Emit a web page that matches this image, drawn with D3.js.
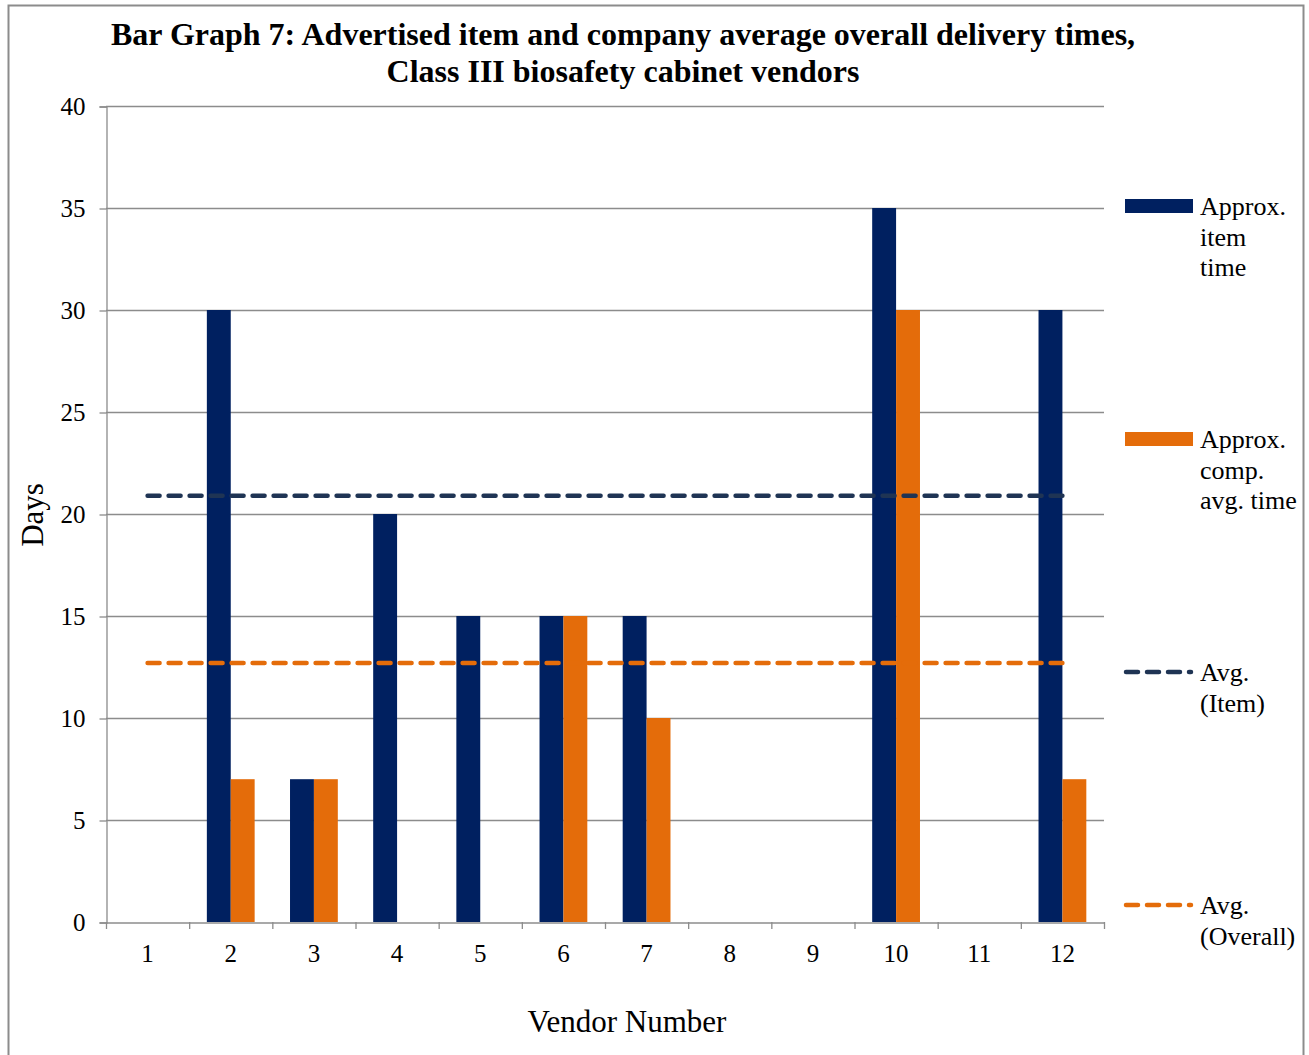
<!DOCTYPE html>
<html>
<head>
<meta charset="utf-8">
<script src="https://cdn.jsdelivr.net/npm/d3@7"></script>
<style>
  body { margin: 0; background: #fff; }
  text { font-family: "Liberation Serif", "Times New Roman", serif; }
</style>
</head>
<body>
<script>
// chart data
var vendors = ["1", "2", "3", "4", "5", "6", "7", "8", "9", "10", "11", "12"];
var itemTime = [0, 30, 7, 20, 15, 15, 15, 0, 0, 35, 0, 30];
var compTime = [0, 7, 7, 0, 0, 15, 10, 0, 0, 30, 0, 7];
var avgItem = 20.9;
var avgOverall = 12.7;
var yTicks = [0, 5, 10, 15, 20, 25, 30, 35, 40];

var width = 1309, height = 1055;
var plotLeft = 106, plotRight = 1104, plotTop = 106, plotBottom = 922;

var navy = "#002060", orange = "#E46C0A", navyLine = "#1F3454";

var svg = d3.select("body").append("svg")
    .attr("width", width)
    .attr("height", height);

// outer border
svg.append("rect")
    .attr("x", 8.5).attr("y", 5.5)
    .attr("width", 1295).attr("height", 1060)
    .attr("fill", "none")
    .attr("stroke", "#8c8c8c")
    .attr("stroke-width", 2);

var x0 = d3.scaleBand().domain(vendors).range([plotLeft, plotRight]);
var x1 = d3.scaleBand().domain(["item", "comp"])
    .range([0, x0.bandwidth()]).paddingOuter(0.74);
var y = d3.scaleLinear().domain([0, 40]).range([plotBottom, plotTop]);

// horizontal gridlines
svg.append("g").selectAll("line")
  .data(yTicks.slice(1))
  .enter().append("line")
    .attr("x1", plotLeft).attr("x2", plotRight)
    .attr("y1", function(d) { return y(d) + 0.5; })
    .attr("y2", function(d) { return y(d) + 0.5; })
    .attr("stroke", "#8c8c8c")
    .attr("stroke-width", 1.3);

// y axis
var yAxis = svg.append("g")
    .attr("transform", "translate(" + (plotLeft + 0.5) + ",0.5)")
    .call(d3.axisLeft(y).tickValues(yTicks).tickSize(7).tickPadding(14));
// x axis
var xAxis = svg.append("g")
    .attr("transform", "translate(0," + (plotBottom + 0.5) + ")")
    .call(d3.axisBottom(x0).tickSize(0).tickPadding(22));
xAxis.selectAll(".tick line").remove();

// category boundary ticks
svg.append("g").selectAll("line")
  .data(vendors.concat(["end"]))
  .enter().append("line")
    .attr("x1", function(d, i) { return i < vendors.length ? x0(d) + 0.5 : plotRight + 0.5; })
    .attr("x2", function(d, i) { return i < vendors.length ? x0(d) + 0.5 : plotRight + 0.5; })
    .attr("y1", plotBottom).attr("y2", plotBottom + 7)
    .attr("stroke", "#8c8c8c").attr("stroke-width", 1.3);

[yAxis, xAxis].forEach(function(a) {
  a.select(".domain").attr("stroke", "#8c8c8c").attr("stroke-width", 1.3);
  a.selectAll(".tick line").attr("stroke", "#8c8c8c").attr("stroke-width", 1.3);
  a.selectAll("text")
      .attr("font-family", "Liberation Serif, Times New Roman, serif")
      .attr("font-size", 25)
      .attr("fill", "#000");
});
xAxis.selectAll("text").attr("dy", "0.71em");

// bars
var groups = svg.append("g").selectAll("g")
  .data(vendors)
  .enter().append("g")
    .attr("transform", function(d) { return "translate(" + x0(d) + ",0)"; });

groups.append("rect")
    .attr("x", x1("item"))
    .attr("width", x1.bandwidth())
    .attr("y", function(d, i) { return y(itemTime[i]); })
    .attr("height", function(d, i) { return plotBottom - y(itemTime[i]); })
    .attr("fill", navy);

groups.append("rect")
    .attr("x", x1("comp"))
    .attr("width", x1.bandwidth())
    .attr("y", function(d, i) { return y(compTime[i]); })
    .attr("height", function(d, i) { return plotBottom - y(compTime[i]); })
    .attr("fill", orange);

// average lines
var lineStart = x0(vendors[0]) + x0.bandwidth() / 2;
var lineEnd = x0(vendors[vendors.length - 1]) + x0.bandwidth() / 2;
[[avgItem, navyLine], [avgOverall, orange]].forEach(function(a) {
  svg.append("line")
      .attr("x1", lineStart).attr("x2", lineEnd)
      .attr("y1", y(a[0])).attr("y2", y(a[0]))
      .attr("stroke", a[1])
      .attr("stroke-width", 4.5)
      .attr("stroke-linecap", "round")
      .attr("stroke-dasharray", "12 9");
});

// title
var title = svg.append("text")
    .attr("text-anchor", "middle")
    .attr("font-weight", "bold")
    .attr("font-size", 32)
    .attr("fill", "#000");
title.append("tspan").attr("x", 623).attr("y", 45)
    .text("Bar Graph 7: Advertised item and company average overall delivery times,");
title.append("tspan").attr("x", 623).attr("y", 82)
    .text("Class III biosafety cabinet vendors");

// axis titles
svg.append("text")
    .attr("transform", "translate(43,515) rotate(-90)")
    .attr("text-anchor", "middle")
    .attr("font-size", 31)
    .text("Days");
svg.append("text")
    .attr("x", 627).attr("y", 1032)
    .attr("text-anchor", "middle")
    .attr("font-size", 31)
    .text("Vendor Number");

// legend
var legend = [
  { type: "rect", color: navy, y: 206, lines: ["Approx.", "item", "time"] },
  { type: "rect", color: orange, y: 439, lines: ["Approx.", "comp.", "avg. time"] },
  { type: "line", color: navyLine, y: 672, lines: ["Avg.", "(Item)"] },
  { type: "line", color: orange, y: 905, lines: ["Avg.", "(Overall)"] }
];

var lg = svg.append("g").selectAll("g")
  .data(legend)
  .enter().append("g");

lg.each(function(d) {
  var g = d3.select(this);
  if (d.type === "rect") {
    g.append("rect")
        .attr("x", 1125).attr("y", d.y - 7)
        .attr("width", 68).attr("height", 14)
        .attr("fill", d.color);
  } else {
    g.append("line")
        .attr("x1", 1126).attr("x2", 1191)
        .attr("y1", d.y).attr("y2", d.y)
        .attr("stroke", d.color)
        .attr("stroke-width", 4.5)
        .attr("stroke-linecap", "round")
        .attr("stroke-dasharray", "12 9");
  }
  g.selectAll("text")
    .data(d.lines)
    .enter().append("text")
      .attr("x", 1200)
      .attr("y", function(t, i) { return d.y + 9 + i * 30.5; })
      .attr("font-size", 26)
      .text(function(t) { return t; });
});
</script>
</body>
</html>
